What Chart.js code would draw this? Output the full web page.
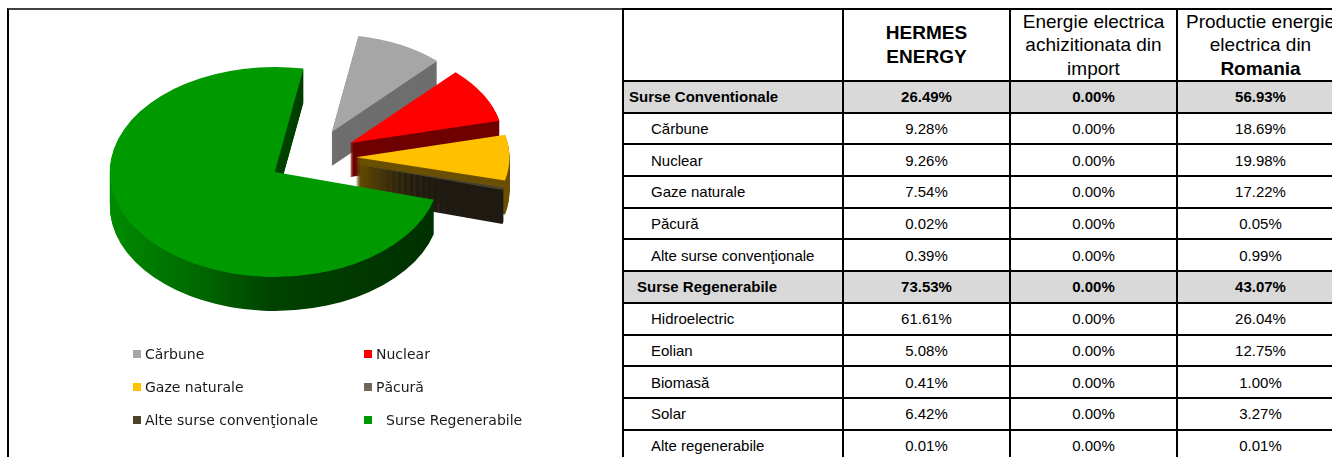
<!DOCTYPE html>
<html><head><meta charset="utf-8">
<script src="https://cdn.jsdelivr.net/npm/chart.js@4.4.1/dist/chart.umd.min.js"></script>
<style>
html,body{margin:0;padding:0;background:#fff;overflow:hidden;width:1332px;height:457px}
#panel{position:absolute;left:7px;top:8px;width:617px;height:470px;border-left:2px solid #000;border-top:2px solid #404040;box-sizing:border-box}
#pieBox{position:absolute;left:9px;top:10px;width:612px;height:330px}
#legend{position:absolute;left:133px;top:337px;display:grid;grid-template-columns:231px 220px;grid-auto-rows:33px;font-family:"DejaVu Sans",Verdana,sans-serif;font-size:14px;color:#1a1a1a}
.li{display:flex;align-items:center;white-space:nowrap}
.sw{width:8px;height:8px;margin-right:4px;flex:none}
#grid{position:absolute;left:622px;top:8px;display:grid;grid-template-columns:220px 167px 167px 167px;grid-template-rows:72px repeat(12,31.7px);border-left:2px solid #000;border-top:2px solid #000;font-family:"Liberation Sans",Arial,sans-serif;font-size:15px;color:#000}
.c{border-right:2px solid #000;border-bottom:2px solid #000;box-sizing:border-box;display:flex;align-items:center;justify-content:center;text-align:center;white-space:nowrap}
.lab{justify-content:flex-start;padding-left:27px}
.grp{background:#d9d9d9;font-weight:bold}
.grp.lab{padding-left:5px}
.grp2.lab{padding-left:13px}
.hd{font-size:19px;line-height:23.5px}
.hd.b{font-weight:bold;line-height:24px}
</style>
</head>
<body>
<div id="panel"></div>
<div id="pieBox"><canvas id="pie"></canvas></div>
<div id="legend"></div>
<div id="grid"></div>
<script>
// ---- chart data ----
const pieLabels = ['Cărbune', 'Nuclear', 'Gaze naturale', 'Păcură', 'Alte surse convenţionale', 'Surse Regenerabile'];
const pieValues = [9.28, 9.26, 7.54, 0.02, 0.39, 73.53];

// ---- table data ----
const columnHeaders = ['', 'HERMES<br>ENERGY', 'Energie electrica<br>achizitionata din<br>import', 'Productie energie<br>electrica din<br><b>Romania</b>'];
const rowLabels = ['Surse Conventionale', 'Cărbune', 'Nuclear', 'Gaze naturale', 'Păcură', 'Alte surse convenţionale',
  'Surse Regenerabile', 'Hidroelectric', 'Eolian', 'Biomasă', 'Solar', 'Alte regenerabile'];
const hermesShares = [26.49, 9.28, 9.26, 7.54, 0.02, 0.39, 73.53, 61.61, 5.08, 0.41, 6.42, 0.01];
const importShares = [0.00, 0.00, 0.00, 0.00, 0.00, 0.00, 0.00, 0.00, 0.00, 0.00, 0.00, 0.00];
const romaniaShares = [56.93, 18.69, 19.98, 17.22, 0.05, 0.99, 43.07, 26.04, 12.75, 1.00, 3.27, 0.01];
const groupRows = [0, 6];

// ---- styles ----
const topColors = ['#a6a6a6', '#ff0000', '#ffc000', '#6f665c', '#4a4229', '#009a00'];
const sideColors = ['#6e6e6e', '#700000', '#6b5000', '#3b352f', '#1f1b13', null];
const EXPLODE = 44;
const explodedRadiusScale = 0.93;
const TILT = 0.636, DEPTH = 34;

// ---- table ----
const grid = document.getElementById('grid');
columnHeaders.forEach((h, j) => {
  const d = document.createElement('div');
  d.className = 'c hd' + (j === 1 ? ' b' : '');
  const inner = document.createElement('div');
  inner.innerHTML = h;
  d.appendChild(inner);
  grid.appendChild(d);
});
rowLabels.forEach((lab, i) => {
  const g = groupRows.includes(i);
  const cls = g ? ' grp' + (i === groupRows[1] ? ' grp2' : '') : '';
  const cells = [lab, hermesShares[i].toFixed(2) + '%', importShares[i].toFixed(2) + '%', romaniaShares[i].toFixed(2) + '%'];
  cells.forEach((t, j) => {
    const d = document.createElement('div');
    d.className = 'c' + cls + (j === 0 ? ' lab' : '');
    d.textContent = t;
    grid.appendChild(d);
  });
});

// ---- legend ----
const legend = document.getElementById('legend');
pieLabels.forEach((lab, i) => {
  const it = document.createElement('div');
  it.className = 'li';
  const sw = document.createElement('span');
  sw.className = 'sw';
  sw.style.background = topColors[i];
  const tx = document.createElement('span');
  tx.textContent = lab;
  if (i === pieLabels.length - 1) tx.style.marginLeft = '10px';
  it.appendChild(sw); it.appendChild(tx);
  legend.appendChild(it);
});

// ---- 3D exploded pie plugin ----
const pie3d = {
  id: 'pie3d',
  beforeDatasetsDraw(chart) {
    const ctx = chart.ctx;
    const meta = chart.getDatasetMeta(0);
    const ca = chart.chartArea;
    const cx = (ca.left + ca.right) / 2, cy = (ca.top + ca.bottom) / 2;
    const R = meta.controller.outerRadius;
    const last = meta.data.length - 1;
    meta.data.forEach((el, i) => {
      const half = (el.startAngle + el.endAngle) / 2;
      el.x = cx + Math.cos(half) * EXPLODE;
      el.y = cy + Math.sin(half) * EXPLODE;
      el.outerRadius = i === last ? R : R * explodedRadiusScale;
    });
    ctx.save();
    ctx.translate(cx, cy); ctx.scale(1, TILT); ctx.translate(-cx, -cy);
    const gx = cx - R - 40;
    const grad = ctx.createLinearGradient(gx, 0, gx + 2 * R, 0);
    grad.addColorStop(0, '#008c00');
    grad.addColorStop(0.28, '#006800');
    grad.addColorStop(0.5, '#004200');
    grad.addColorStop(1, '#003000');
    for (let d = DEPTH; d >= 1; d--) {
      ctx.save();
      ctx.translate(0, d / TILT);
      meta.data.forEach((el, i) => {
        const clone = Object.create(el);
        clone.options = Object.assign({}, el.options, {backgroundColor: sideColors[i] || grad, borderWidth: 0});
        clone.draw(ctx);
      });
      ctx.restore();
    }
  },
  afterDatasetsDraw(chart) {
    chart.ctx.restore();
  }
};

new Chart(document.getElementById('pie'), {
  type: 'pie',
  data: {
    labels: pieLabels,
    datasets: [{data: pieValues, backgroundColor: topColors, borderWidth: 0}]
  },
  options: {
    responsive: true,
    maintainAspectRatio: false,
    animation: false,
    events: [],
    rotation: 10,
    radius: 165,
    layout: {padding: {left: 0, right: 6, top: 0, bottom: 36}},
    plugins: {legend: {display: false}, tooltip: {enabled: false}}
  },
  plugins: [pie3d]
});
</script>
</body></html>
